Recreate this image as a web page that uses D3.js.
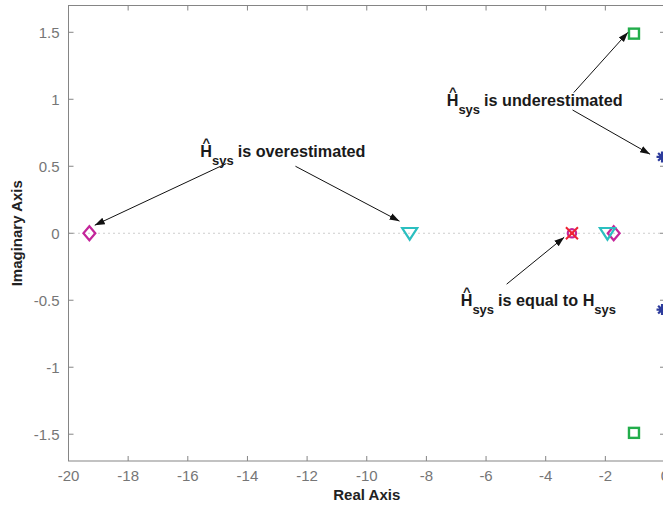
<!DOCTYPE html>
<html><head><meta charset="utf-8">
<script src="https://cdn.jsdelivr.net/npm/d3@7"></script>
<style>body{margin:0;background:#fff;}svg{display:block;}</style>
</head><body>
<svg id="c" width="663" height="508"></svg>
<script>
// ---- data ----
const xTicks = [-20,-18,-16,-14,-12,-10,-8,-6,-4,-2,0];
const yTicks = [-1.5,-1,-0.5,0,0.5,1,1.5];
const yTickLabels = ["-1.5","-1","-0.5","0","0.5","1","1.5"];
const diamonds = [[-19.3,0],[-1.72,0]];
const triangles = [[-8.56,0],[-1.93,0]];
const squares = [[-1.04,1.49],[-1.04,-1.49]];
const asterisks = [[-0.1,0.57],[-0.1,-0.57]];
const crosses = [[-3.12,0]];
const circles = [[-3.12,0]];
const arrows = [
  [[-14.71,0.52],[-19.12,0.06]],
  [[-12.39,0.50],[-8.9,0.09]],
  [[-3.06,1.05],[-1.24,1.50]],
  [[-3.10,0.92],[-0.5,0.59]],
  [[-5.31,-0.38],[-3.38,-0.03]]
];
const labels = [
  {x:-15.58, y:0.57, text:"is overestimated", tail:""},
  {x:-7.32, y:0.95, text:"is underestimated", tail:""},
  {x:-6.85, y:-0.54, text:"is equal to H", tail:"sys"}
];

// ---- layout ----
const svg = d3.select("#c");
const L = 68.5, R = 665, T = 5.5, B = 461;
const x = d3.scaleLinear().domain([-20,0]).range([L,R]);
const y = d3.scaleLinear().domain([-1.7,1.7]).range([B,T]);
const axisCol = "#858585", txtCol = "#767676";
const ff = "Liberation Sans, Arial, sans-serif";

// zero dotted line
svg.append("line").attr("x1",L).attr("x2",R).attr("y1",y(0)).attr("y2",y(0))
  .attr("stroke","#9a9a9a").attr("stroke-width",1).attr("stroke-dasharray","1,4");

// box
svg.append("rect").attr("x",L).attr("y",T).attr("width",R-L).attr("height",B-T)
  .attr("fill","none").attr("stroke",axisCol).attr("stroke-width",1);

const tl = 5;
const gx = svg.append("g");
xTicks.forEach(t=>{
  gx.append("line").attr("x1",x(t)).attr("x2",x(t)).attr("y1",B).attr("y2",B-tl).attr("stroke",axisCol);
  gx.append("line").attr("x1",x(t)).attr("x2",x(t)).attr("y1",T).attr("y2",T+tl).attr("stroke",axisCol);
  gx.append("text").attr("x",x(t)).attr("y",B+20).attr("text-anchor","middle")
    .attr("font-family",ff).attr("font-size",15).attr("fill",txtCol).text(t);
});
yTicks.forEach((t,i)=>{
  gx.append("line").attr("x1",L).attr("x2",L+tl).attr("y1",y(t)).attr("y2",y(t)).attr("stroke",axisCol);
  gx.append("line").attr("x1",R).attr("x2",R-tl).attr("y1",y(t)).attr("y2",y(t)).attr("stroke",axisCol);
  gx.append("text").attr("x",L-9).attr("y",y(t)+5.5).attr("text-anchor","end")
    .attr("font-family",ff).attr("font-size",15).attr("fill",txtCol).text(yTickLabels[i]);
});

svg.append("text").attr("x",(L+R)/2).attr("y",500).attr("text-anchor","middle")
  .attr("font-family",ff).attr("font-size",15).attr("font-weight","bold").attr("fill","#222").text("Real Axis");
svg.append("text").attr("transform",`translate(22,${(T+B)/2}) rotate(-90)`).attr("text-anchor","middle")
  .attr("font-family",ff).attr("font-size",15).attr("font-weight","bold").attr("fill","#222").text("Imaginary Axis");

// markers
const magenta="#c4259a", cyan="#2bbfc0", red="#ee2233", green="#22ad4b", blue="#2c3b9c";
diamonds.forEach(d=>{
  const cx=x(d[0]), cy=y(d[1]), s=7;
  svg.append("path").attr("d",`M${cx},${cy-s}L${cx+s*0.85},${cy}L${cx},${cy+s}L${cx-s*0.85},${cy}Z`)
    .attr("fill","none").attr("stroke",magenta).attr("stroke-width",2.2);
});
triangles.forEach(d=>{
  const cx=x(d[0]), cy=y(d[1]), s=7.5;
  svg.append("path").attr("d",`M${cx-s},${cy-s*0.7}L${cx+s},${cy-s*0.7}L${cx},${cy+s*0.85}Z`)
    .attr("fill","none").attr("stroke",cyan).attr("stroke-width",2.2);
});
squares.forEach(d=>{
  const cx=x(d[0]), cy=y(d[1]), s=5;
  svg.append("rect").attr("x",cx-s).attr("y",cy-s).attr("width",2*s).attr("height",2*s)
    .attr("fill","none").attr("stroke",green).attr("stroke-width",2.4);
});
circles.forEach(d=>{
  svg.append("circle").attr("cx",x(d[0])).attr("cy",y(d[1])).attr("r",4.2)
    .attr("fill","none").attr("stroke",magenta).attr("stroke-width",2.2);
});
crosses.forEach(d=>{
  const cx=x(d[0]), cy=y(d[1]), s=6;
  svg.append("path").attr("d",`M${cx-s},${cy-s}L${cx+s},${cy+s}M${cx-s},${cy+s}L${cx+s},${cy-s}`)
    .attr("stroke",red).attr("stroke-width",2);
  svg.append("circle").attr("cx",cx).attr("cy",cy).attr("r",1.8).attr("fill",red);
});
asterisks.forEach(d=>{
  const cx=x(d[0]), cy=y(d[1]), s=5.5;
  let p="";
  for(let k=0;k<4;k++){const a=k*Math.PI/4;p+=`M${cx-s*Math.cos(a)},${cy-s*Math.sin(a)}L${cx+s*Math.cos(a)},${cy+s*Math.sin(a)}`;}
  svg.append("path").attr("d",p).attr("stroke",blue).attr("stroke-width",2.2);
});

// arrows
const defs = svg.append("defs");
defs.append("marker").attr("id","ah").attr("viewBox","0 0 10 10").attr("refX",10).attr("refY",5)
  .attr("markerWidth",10).attr("markerHeight",10).attr("markerUnits","userSpaceOnUse").attr("orient","auto")
  .append("path").attr("d","M0,1.5L10,5L0,8.5Z").attr("fill","#111");
arrows.forEach(a=>{
  svg.append("line").attr("x1",x(a[0][0])).attr("y1",y(a[0][1])).attr("x2",x(a[1][0])).attr("y2",y(a[1][1]))
    .attr("stroke","#111").attr("stroke-width",1).attr("marker-end","url(#ah)");
});

// labels
labels.forEach(l=>{
  const px=x(l.x), py=y(l.y);
  const t = svg.append("text").attr("x",px).attr("y",py)
    .attr("font-family",ff).attr("font-size",16.2).attr("font-weight","bold").attr("fill","#1a1a1a");
  t.append("tspan").text("H");
  t.append("tspan").attr("dy",8).attr("font-size",13).text("sys");
  t.append("tspan").attr("dy",-8).attr("dx",4).text(l.text);
  if(l.tail) t.append("tspan").attr("dy",8).attr("font-size",13).text(l.tail);
  svg.append("text").attr("x",px+6).attr("y",py-10).attr("text-anchor","middle")
    .attr("font-family",ff).attr("font-size",13).attr("font-weight","bold").attr("fill","#1a1a1a").text("^");
});
</script>
</body></html>
